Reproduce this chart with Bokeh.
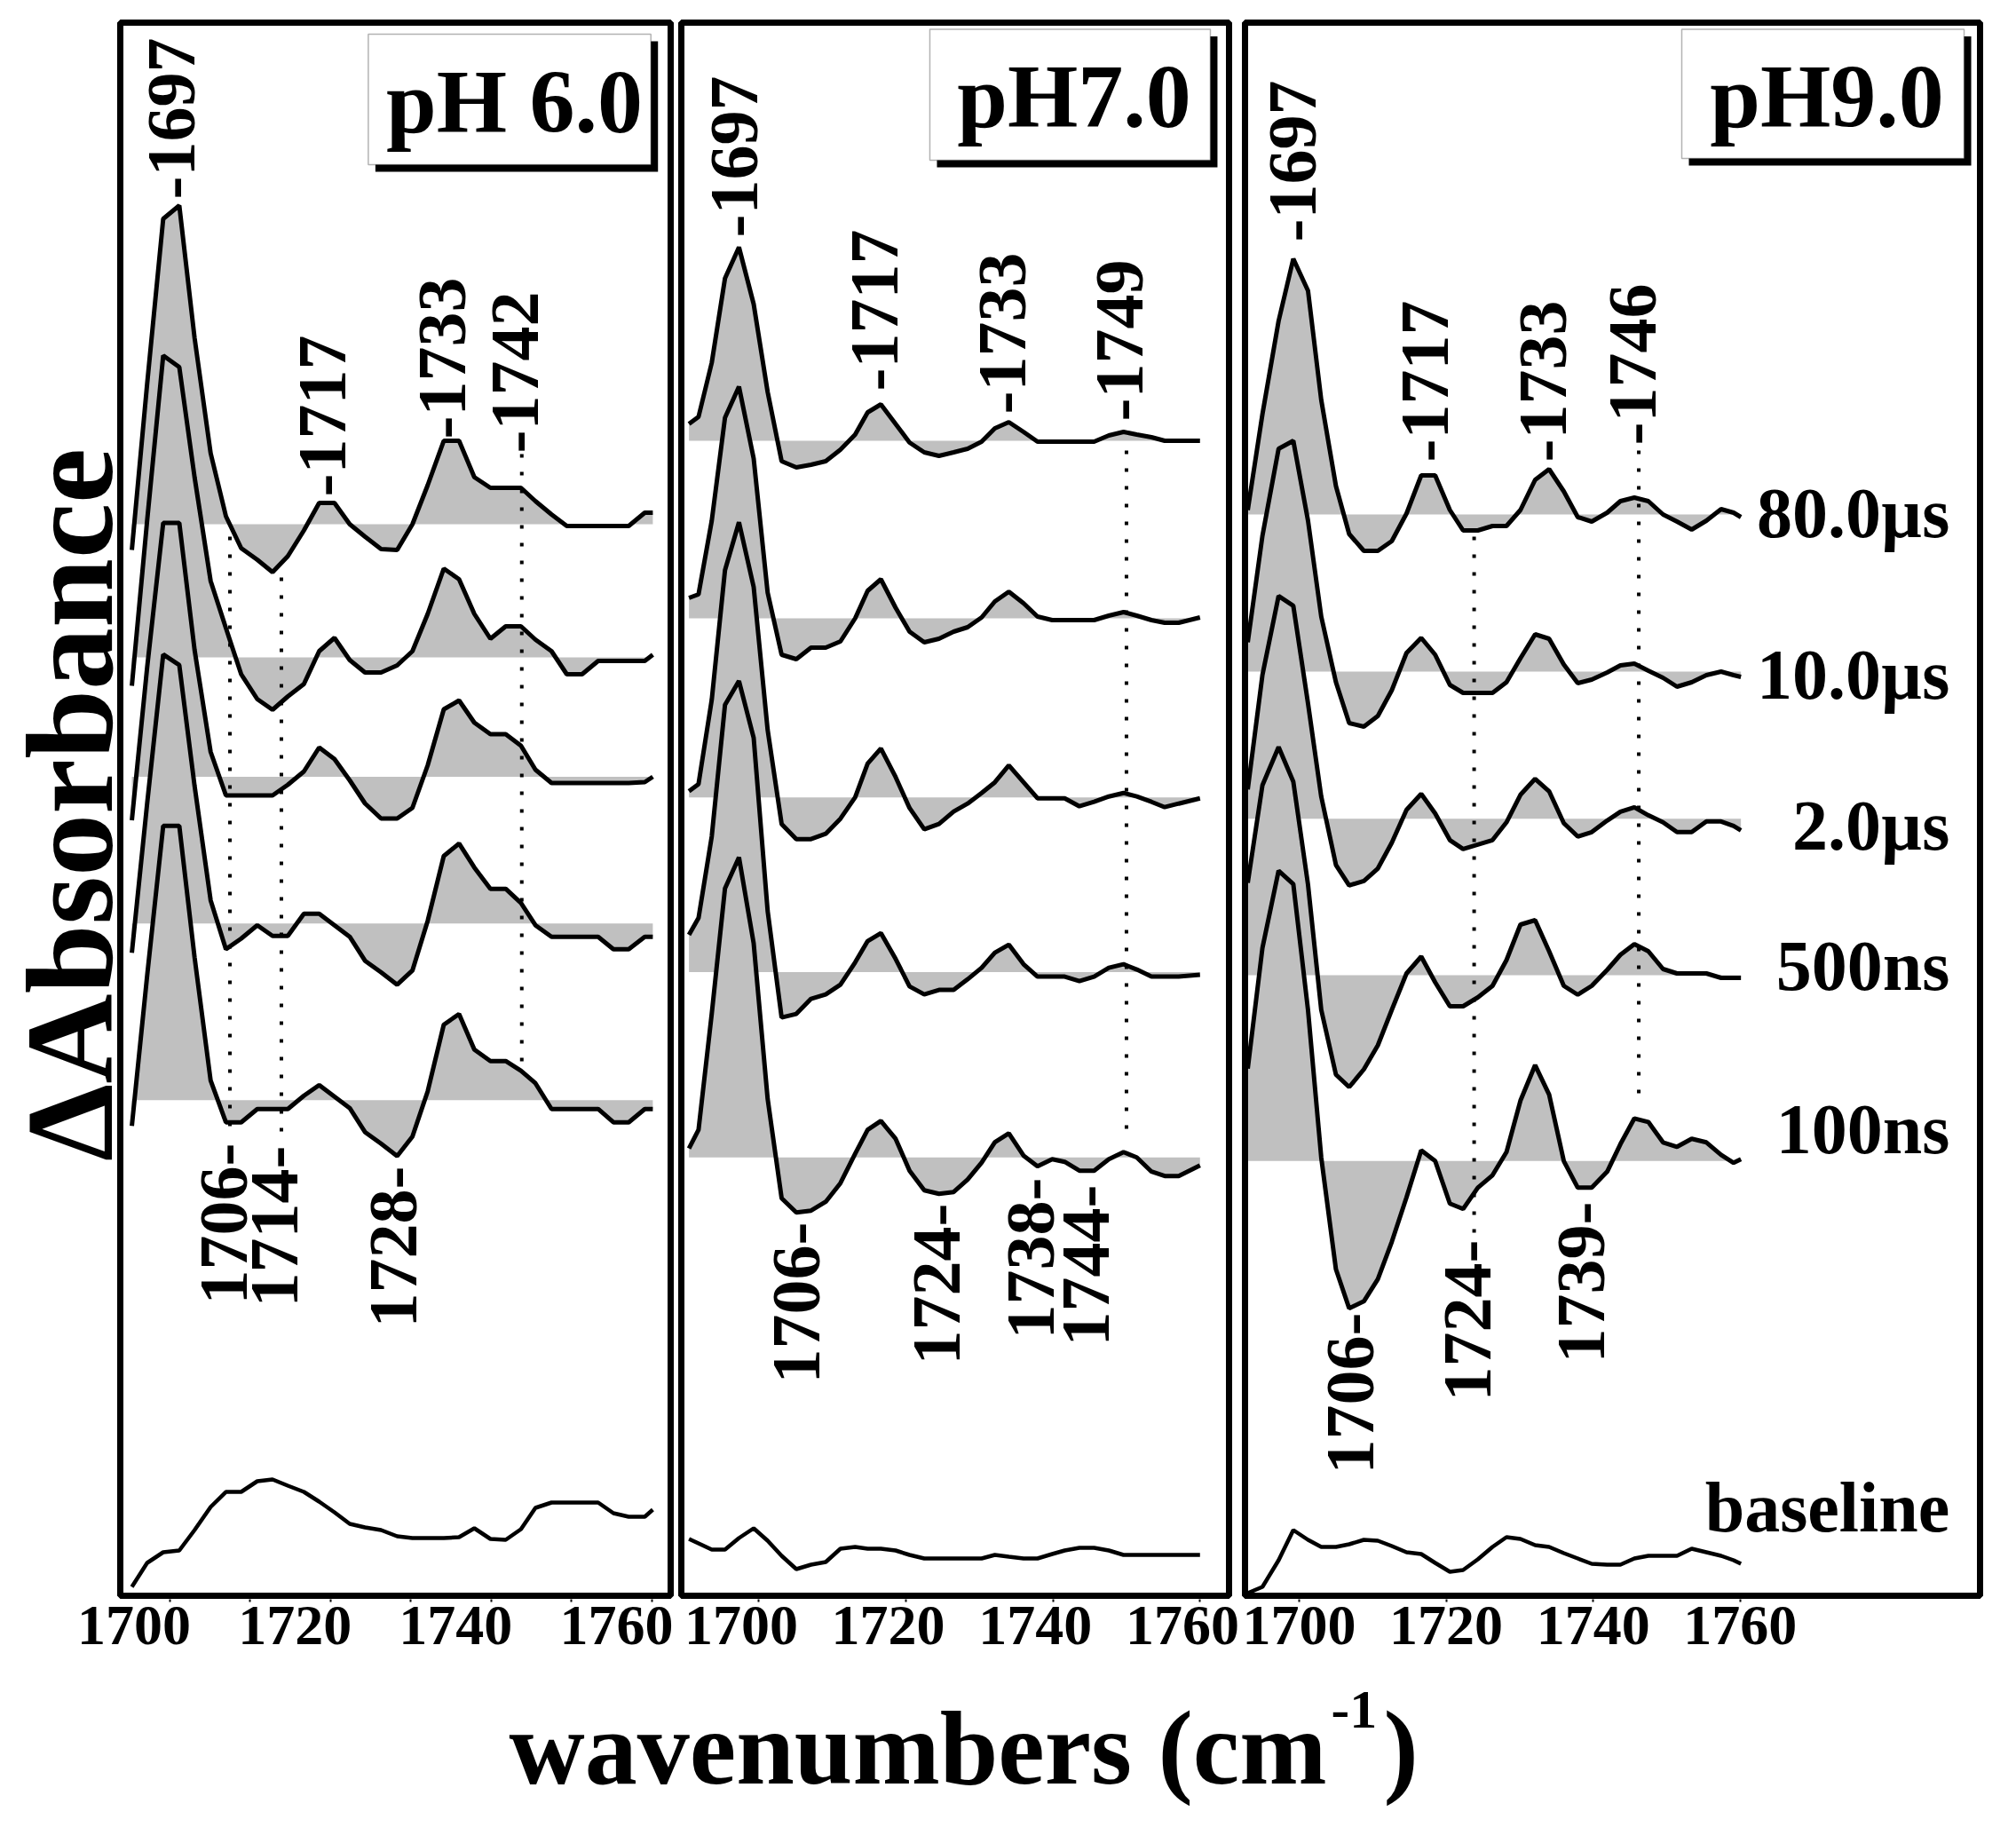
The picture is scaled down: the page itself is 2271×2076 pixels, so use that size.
import numpy as np

from bokeh.core.properties import value
from bokeh.embed import file_html
from bokeh.layouts import column, row
from bokeh.models import BoxAnnotation, FixedTicker, LinearAxis, Range1d
from bokeh.plotting import figure
from bokeh.resources import INLINE

FONT = "Liberation Serif"
FILL = "#c0c0c0"

delays = ["80.0µs", "10.0µs", "2.0µs", "500ns", "100ns"]

# ---------------- pH 6.0 ----------------
wn_ph6 = [1695.3, 1697.2, 1699.2, 1701.2, 1703.1, 1705.1, 1707.0, 1708.9, 1710.9, 1712.8,
          1714.7, 1716.7, 1718.6, 1720.5, 1722.4, 1724.3, 1726.3, 1728.3, 1730.2, 1732.1,
          1734.1, 1736.0, 1737.9, 1739.9, 1741.8, 1743.7, 1745.5, 1747.5, 1749.4, 1751.3,
          1753.3, 1755.2, 1757.1, 1759.1, 1760.1]
ph6_80us = [-0.29, 1.58, 3.44, 3.59, 2.10, 0.80, 0.09, -0.27, -0.40, -0.54, -0.36, -0.07, 0.24, 0.24,
            0.00, -0.14, -0.28, -0.29, 0.00, 0.44, 0.94, 0.94, 0.53, 0.41, 0.41, 0.41, 0.26, 0.11,
            -0.02, -0.02, -0.02, -0.02, -0.02, 0.13, 0.13]
ph6_10us = [-0.32, 1.54, 3.40, 3.27, 2.03, 0.86, 0.33, -0.19, -0.47, -0.59, -0.44, -0.30, 0.07, 0.22,
            -0.03, -0.17, -0.17, -0.09, 0.07, 0.49, 1.00, 0.88, 0.49, 0.21, 0.35, 0.35, 0.20, 0.07,
            -0.19, -0.19, -0.04, -0.04, -0.04, -0.04, 0.03]
ph6_2us = [-0.49, 1.23, 2.86, 2.86, 1.43, 0.28, -0.21, -0.21, -0.21, -0.21, -0.09, 0.06, 0.33, 0.20,
           -0.04, -0.30, -0.47, -0.47, -0.35, 0.13, 0.76, 0.86, 0.61, 0.48, 0.48, 0.35, 0.08, -0.07,
           -0.07, -0.07, -0.07, -0.07, -0.07, -0.06, 0.00]
ph6_500ns = [-0.33, 1.35, 3.03, 2.91, 1.55, 0.26, -0.29, -0.17, -0.02, -0.14, -0.14, 0.11, 0.11, -0.02,
             -0.15, -0.42, -0.55, -0.69, -0.53, 0.03, 0.76, 0.90, 0.63, 0.39, 0.39, 0.23, -0.02, -0.15,
             -0.15, -0.15, -0.15, -0.29, -0.29, -0.15, -0.15]
ph6_100ns = [-0.29, 1.40, 3.09, 3.09, 1.61, 0.22, -0.25, -0.25, -0.10, -0.10, -0.10, 0.05, 0.17, 0.04,
             -0.09, -0.36, -0.49, -0.63, -0.41, 0.10, 0.85, 0.97, 0.57, 0.44, 0.44, 0.33, 0.19, -0.10,
             -0.10, -0.10, -0.10, -0.25, -0.25, -0.10, -0.10]
ph6_base = [-0.35, -0.08, 0.04, 0.06, 0.29, 0.55, 0.72, 0.72, 0.84, 0.86, 0.79, 0.72, 0.61, 0.49,
            0.36, 0.32, 0.29, 0.22, 0.20, 0.20, 0.20, 0.21, 0.31, 0.19, 0.18, 0.30, 0.54, 0.60,
            0.60, 0.60, 0.60, 0.48, 0.44, 0.44, 0.52]
ph6_offsets = [12.07, 10.57, 9.225, 7.573, 5.583]
ph6_peak_labels = ["-1697", "-1717", "-1733", "-1742"]
ph6_peak_x = [1701.0, 1719.8, 1734.7, 1743.8]
ph6_peak_y = [15.73, 12.38, 13.03, 12.87]
ph6_dip_labels = ["1706-", "1714-", "1728-"]
ph6_dip_x = [1707.5, 1713.9, 1728.6]
ph6_dip_y = [5.10, 5.07, 4.84]
ph6_drop_x = [1707.5, 1713.9, 1743.8]
ph6_drop_top = [11.93, 11.47, 12.86]
ph6_drop_bottom = [5.15, 5.15, 5.94]

# ---------------- pH 7.0 ----------------
wn_ph7 = [1690.5, 1691.8, 1693.6, 1695.4, 1697.3, 1699.3, 1701.2, 1703.1, 1705.1, 1707.1,
          1709.1, 1711.1, 1713.1, 1714.8, 1716.6, 1718.6, 1720.5, 1722.5, 1724.5, 1726.5,
          1728.4, 1730.3, 1732.1, 1734.0, 1736.0, 1737.9, 1739.9, 1741.6, 1743.6, 1745.6,
          1747.6, 1749.6, 1751.4, 1753.4, 1755.2, 1757.1, 1760.0]
ph7_80us = [0.19, 0.27, 0.88, 1.83, 2.18, 1.54, 0.55, -0.23, -0.30, -0.27, -0.23, -0.10, 0.07, 0.32,
            0.41, 0.19, -0.02, -0.13, -0.17, -0.13, -0.09, -0.01, 0.14, 0.21, 0.10, -0.01, -0.01,
            -0.01, -0.01, -0.01, 0.06, 0.10, 0.07, 0.04, 0.00, 0.00, 0.00]
ph7_10us = [0.23, 0.27, 1.10, 2.26, 2.61, 1.80, 0.29, -0.41, -0.46, -0.33, -0.33, -0.26, 0.00, 0.31,
            0.44, 0.12, -0.15, -0.27, -0.23, -0.15, -0.10, 0.01, 0.19, 0.30, 0.17, 0.02, -0.02,
            -0.02, -0.02, -0.02, 0.03, 0.07, 0.03, -0.02, -0.05, -0.05, 0.01]
ph7_2us = [0.07, 0.15, 1.10, 2.56, 3.10, 2.37, 0.76, -0.30, -0.47, -0.47, -0.41, -0.24, 0.00, 0.38,
           0.55, 0.23, -0.12, -0.36, -0.30, -0.16, -0.07, 0.05, 0.17, 0.36, 0.17, -0.01, -0.01,
           -0.01, -0.10, -0.05, 0.01, 0.05, 0.01, -0.05, -0.11, -0.07, -0.01]
ph7_500ns = [0.42, 0.61, 1.53, 3.01, 3.28, 2.64, 0.69, -0.51, -0.47, -0.30, -0.25, -0.14, 0.11, 0.35,
             0.44, 0.15, -0.16, -0.25, -0.20, -0.20, -0.08, 0.05, 0.22, 0.31, 0.09, -0.05, -0.05,
             -0.05, -0.10, -0.05, 0.05, 0.09, 0.03, -0.05, -0.05, -0.05, -0.03]
ph7_100ns = [0.10, 0.31, 1.62, 3.03, 3.38, 2.41, 0.66, -0.46, -0.62, -0.60, -0.50, -0.29, 0.04, 0.31,
             0.41, 0.21, -0.15, -0.37, -0.41, -0.39, -0.25, -0.06, 0.17, 0.27, 0.02, -0.10, -0.02,
             -0.05, -0.15, -0.15, -0.02, 0.06, 0.00, -0.16, -0.21, -0.21, -0.09]
ph7_base = [0.19, 0.14, 0.07, 0.07, 0.20, 0.31, 0.17, 0.00, -0.15, -0.10, -0.07, 0.08, 0.10, 0.08,
            0.08, 0.06, 0.01, -0.03, -0.03, -0.03, -0.03, -0.03, 0.01, -0.01, -0.03, -0.03, 0.02,
            0.06, 0.09, 0.09, 0.06, 0.01, 0.01, 0.01, 0.01, 0.01, 0.01]
ph7_offsets = [13.01, 11.01, 8.993, 7.024, 4.938]
ph7_peak_labels = ["-1697", "-1717", "-1733", "-1749"]
ph7_peak_x = [1697.5, 1716.6, 1734.0, 1750.0]
ph7_peak_y = [15.30, 13.57, 13.31, 13.23]
ph7_dip_labels = ["1706-", "1724-", "1738-", "1744-"]
ph7_dip_x = [1706.0, 1725.1, 1737.9, 1745.4]
ph7_dip_y = [4.21, 4.42, 4.71, 4.63]
ph7_drop_x = [1750.0]
ph7_drop_top = [12.90]
ph7_drop_bottom = [5.17]

# ---------------- pH 9.0 ----------------
wn_ph9 = [1693.0, 1695.0, 1697.2, 1699.2, 1701.2, 1703.0, 1705.0, 1706.8, 1708.8, 1710.7,
          1712.6, 1714.6, 1716.6, 1718.5, 1720.5, 1722.3, 1724.3, 1726.3, 1728.2, 1730.1,
          1732.1, 1734.0, 1736.0, 1737.9, 1739.8, 1741.9, 1743.7, 1745.6, 1747.5, 1749.5,
          1751.4, 1753.4, 1755.4, 1757.4, 1759.1, 1760.1]
ph9_80us = [0.05, 1.13, 2.18, 2.88, 2.52, 1.29, 0.32, -0.22, -0.41, -0.41, -0.30, 0.01, 0.44, 0.44,
            0.05, -0.18, -0.18, -0.13, -0.13, 0.05, 0.39, 0.51, 0.26, -0.03, -0.08, 0.02, 0.15,
            0.19, 0.15, 0.00, -0.08, -0.17, -0.07, 0.06, 0.02, -0.03]
ph9_10us = [0.33, 1.53, 2.51, 2.60, 1.70, 0.62, -0.12, -0.58, -0.62, -0.50, -0.21, 0.21, 0.38, 0.19,
            -0.15, -0.24, -0.24, -0.24, -0.12, 0.15, 0.42, 0.37, 0.08, -0.13, -0.09, -0.01, 0.07,
            0.09, 0.01, -0.07, -0.17, -0.12, -0.04, 0.00, -0.04, -0.06]
ph9_2us = [0.33, 1.62, 2.51, 2.40, 1.30, 0.25, -0.52, -0.75, -0.70, -0.56, -0.27, 0.10, 0.28, 0.06,
           -0.24, -0.34, -0.29, -0.24, -0.04, 0.27, 0.45, 0.31, -0.05, -0.20, -0.15, -0.02, 0.08,
           0.13, 0.04, -0.04, -0.15, -0.15, -0.03, -0.03, -0.08, -0.13]
ph9_500ns = [1.04, 2.14, 2.57, 2.18, 1.02, -0.39, -1.12, -1.26, -1.06, -0.79, -0.39, 0.02, 0.21, -0.08,
             -0.35, -0.35, -0.25, -0.12, 0.17, 0.57, 0.62, 0.27, -0.12, -0.22, -0.12, 0.06, 0.23,
             0.35, 0.27, 0.07, 0.02, 0.02, 0.02, -0.03, -0.03, -0.03]
ph9_100ns = [1.04, 2.40, 3.27, 3.12, 1.70, 0.04, -1.22, -1.66, -1.58, -1.33, -0.91, -0.41, 0.12, 0.00,
             -0.48, -0.54, -0.30, -0.16, 0.10, 0.68, 1.08, 0.75, 0.00, -0.30, -0.30, -0.12, 0.19,
             0.48, 0.44, 0.21, 0.16, 0.25, 0.21, 0.07, -0.02, 0.02]
ph9_base = [-0.42, -0.35, -0.05, 0.29, 0.18, 0.10, 0.10, 0.13, 0.18, 0.17, 0.11, 0.04, 0.02, -0.08,
            -0.18, -0.16, -0.04, 0.10, 0.21, 0.19, 0.12, 0.10, 0.03, -0.03, -0.09, -0.10, -0.10,
            -0.03, 0.00, 0.00, 0.00, 0.08, 0.04, 0.00, -0.05, -0.09]
ph9_offsets = [12.18, 10.41, 8.752, 6.99, 4.897]
ph9_peak_labels = ["-1697", "-1717", "-1733", "-1746"]
ph9_peak_x = [1700.0, 1718.0, 1734.1, 1746.2]
ph9_peak_y = [15.25, 12.77, 12.77, 12.96]
ph9_dip_labels = ["1706-", "1724-", "1739-"]
ph9_dip_x = [1707.8, 1723.8, 1739.3]
ph9_dip_y = [3.19, 4.01, 4.44]
ph9_drop_x = [1723.8, 1746.2]
ph9_drop_top = [11.93, 12.90]
ph9_drop_bottom = [4.07, 5.52]

base_offset = 0.45
delay_label_y = [12.20, 10.38, 8.68, 7.10, 5.255, 1.00]

Y_TOP = 17.72
PX_Y = 100.0          # pixels per y unit
TOP = 21              # canvas space above the frames
BOTTOM = 91           # canvas space below the frames for the tick numbers
PAD_Y = 4 / PX_Y      # frame reaches past the panel box so its thick border is not clipped
ROW_H = TOP + int(round((Y_TOP + 2 * PAD_Y) * PX_Y)) + BOTTOM
TITLE_H = 2060 - ROW_H


def bare_figure(width, height, x_range, y_range, **kw):
    """
        Figure with no axes, grid, outline or toolbar.
    """
    p = figure(width=width, height=height, x_range=x_range, y_range=y_range,
               x_axis_location=None, y_axis_location=None, tools="", toolbar_location=None,
               output_backend="svg", **kw)
    p.grid.visible = False
    p.outline_line_color = None
    return p


def bold_text(p, x, y, text, size, **kw):
    return p.text(x=x, y=y, text=text, text_font=value(FONT), text_font_style="bold",
                  text_font_size=size, text_color="black", **kw)


def make_panel(wn, traces, baseline, offsets, x0, x1, scale, pad_l, pad_r, label_shift, ticks,
               title, box):
    """
        Builds one pH panel: filled difference spectra, baseline, peak marks and boxed title.

        Parameters:
            x0, x1 : wavenumbers at the left and right edge of the boxed panel
            scale : pixels per wavenumber
            pad_l, pad_r : canvas pixels left and right of the panel box
            label_shift : offset of the printed tick numbers against the tick marks
    """
    width = int(round((x1 - x0) * scale)) + pad_l + pad_r
    p = bare_figure(width, ROW_H, Range1d(x0 - pad_l / scale, x1 + pad_r / scale),
                    Range1d(-PAD_Y, Y_TOP + PAD_Y), min_border_left=0, min_border_right=0,
                    min_border_top=TOP, min_border_bottom=BOTTOM)

    x = np.array(wn)
    for ser, off in zip(traces, offsets):
        p.varea(x=x, y1=np.full(len(x), off), y2=off + np.array(ser), fill_color=FILL)

    drop_x, drop_top, drop_bottom = title["drops"]
    p.segment(x0=drop_x, y0=drop_top, x1=drop_x, y1=drop_bottom, line_color="black",
              line_width=4, line_dash="4 16")

    for ser, off in zip(traces, offsets):
        p.line(x, off + np.array(ser), line_color="black", line_width=5)
    p.line(x, base_offset + np.array(baseline), line_color="black", line_width=4.5)

    # the panel box
    p.quad(left=[x0], right=[x1], bottom=[0], top=[Y_TOP], fill_color=None,
           line_color="black", line_width=7)

    peak_text, peak_x, peak_y = title["peaks"]
    bold_text(p, peak_x, peak_y, peak_text, "78px", angle=np.pi / 2, text_align="left",
              text_baseline="middle", x_offset=-7)
    dip_text, dip_x, dip_y = title["dips"]
    bold_text(p, dip_x, dip_y, dip_text, "78px", angle=np.pi / 2, text_align="right",
              text_baseline="middle", x_offset=-7)

    # boxed pH title with a drop shadow
    left, right, bottom, top, tx, ty = box
    dx = 8 / scale
    dy = 8 / PX_Y
    p.add_layout(BoxAnnotation(left=left + dx, right=right + dx, bottom=bottom - dy, top=top - dy,
                               fill_color="black", fill_alpha=1.0, line_color=None))
    p.add_layout(BoxAnnotation(left=left, right=right, bottom=bottom, top=top,
                               fill_color="white", fill_alpha=1.0, line_color="black",
                               line_width=1.5))
    name = bold_text(p, [tx], [ty], [title["name"]], "102px", text_align="center",
                     text_baseline="middle")
    name.level = "overlay"

    # tick marks on the true scale, tick numbers on a shifted copy as in the original
    tick_axis = LinearAxis(ticker=FixedTicker(ticks=ticks), axis_line_color=None,
                           major_tick_out=3, major_tick_in=0, major_tick_line_width=2,
                           minor_tick_line_color=None, major_label_text_font_size="1px",
                           major_label_text_color=None, major_label_standoff=0)
    p.add_layout(tick_axis, "below")
    xr = p.x_range
    p.extra_x_ranges = {"labels": Range1d(xr.start + label_shift, xr.end + label_shift)}
    label_axis = LinearAxis(x_range_name="labels", ticker=FixedTicker(ticks=[1700, 1720, 1740, 1760]),
                            axis_line_color=None, major_tick_line_color=None, major_tick_out=0,
                            major_tick_in=0, minor_tick_line_color=None,
                            major_label_text_font=FONT, major_label_text_font_style="bold",
                            major_label_text_font_size="64px", major_label_text_color="black",
                            major_label_standoff=5)
    p.add_layout(label_axis, "below")
    return p


p6 = make_panel(wn_ph6, [ph6_80us, ph6_10us, ph6_2us, ph6_500ns, ph6_100ns], ph6_base,
                ph6_offsets, 1693.86, 1762.32, 9.057, 135, 6, 4.42,
                [1700, 1710, 1720, 1730, 1740, 1750, 1760],
                {"name": "pH 6.0",
                 "peaks": (ph6_peak_labels, ph6_peak_x, ph6_peak_y),
                 "dips": (ph6_dip_labels, ph6_dip_x, ph6_dip_y),
                 "drops": (ph6_drop_x, ph6_drop_top, ph6_drop_bottom)},
                (1724.71, 1759.86, 16.12, 17.59, 1742.88, 16.83))
# shared y title, in the margin left of the first panel box
bold_text(p6, [1687.54], [8.91], ["ΔAbsorbance"], "140px", angle=np.pi / 2,
          text_align="center", text_baseline="middle")

p7 = make_panel(wn_ph7, [ph7_80us, ph7_10us, ph7_2us, ph7_500ns, ph7_100ns], ph7_base,
                ph7_offsets, 1689.46, 1763.95, 8.283, 6, 12, 2.4, [1700, 1720, 1740, 1760],
                {"name": "pH7.0",
                 "peaks": (ph7_peak_labels, ph7_peak_x, ph7_peak_y),
                 "dips": (ph7_dip_labels, ph7_dip_x, ph7_dip_y),
                 "drops": (ph7_drop_x, ph7_drop_top, ph7_drop_bottom)},
                (1723.26, 1761.41, 16.17, 17.645, 1742.88, 16.89))

p9 = make_panel(wn_ph9, [ph9_80us, ph9_10us, ph9_2us, ph9_500ns, ph9_100ns], ph9_base,
                ph9_offsets, 1692.63, 1792.63, 8.28, 6, 9, 0.0, [1700, 1720, 1740, 1760],
                {"name": "pH9.0",
                 "peaks": (ph9_peak_labels, ph9_peak_x, ph9_peak_y),
                 "dips": (ph9_dip_labels, ph9_dip_x, ph9_dip_y),
                 "drops": (ph9_drop_x, ph9_drop_top, ph9_drop_bottom)},
                (1752.05, 1790.46, 16.19, 17.645, 1771.8, 16.89))
bold_text(p9, [1788.5] * 6, delay_label_y, delays + ["baseline"], "80px",
          text_align="right", text_baseline="middle")

# shared x title in a strip under all panels
total_w = p6.width + p7.width + p9.width
xlab = bare_figure(total_w, TITLE_H, Range1d(0, total_w), Range1d(0, TITLE_H), min_border=0)
bold_text(xlab, [1494], [91], ["wavenumbers (cm"], "118px", text_align="right",
          text_baseline="middle")
bold_text(xlab, [1499], [135], ["-1"], "62px", text_align="left", text_baseline="middle")
bold_text(xlab, [1558], [91], [")"], "118px", text_align="left", text_baseline="middle")

layout = column(row(p6, p7, p9), xlab)

open("out.html", "w").write(file_html(layout, INLINE))
